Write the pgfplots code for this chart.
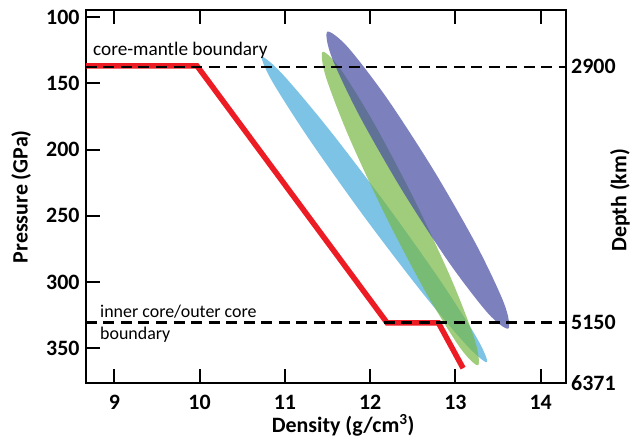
\documentclass[border=0pt]{standalone}
\usepackage{pgfplots}
\pgfplotsset{compat=1.18}
\usepackage{fontspec}
\setmainfont{Carlito}
\definecolor{eblue}{RGB}{125,195,230}
\definecolor{egreen}{RGB}{119,184,69}
\definecolor{epurple}{RGB}{69,76,162}
\definecolor{cred}{RGB}{237,28,36}
\begin{document}
\begin{tikzpicture}
\useasboundingbox (-86bp,-59.7bp) rectangle (547bp,383.3bp);
\begin{axis}[at={(0,0)}, anchor=south west, scale only axis,
  width=479.7bp, height=373.3bp,
  xmin=8.668, xmax=14.293, ymin=94.6, ymax=376.4, y dir=reverse,
  xtick={9,10,11,12,13,14}, ytick={100,150,200,250,300,350},
  ytick pos=left, tick align=inside,
  major tick length=14bp, tick style={black, line width=2bp},
  axis line style={line width=2.2bp},
  /pgf/number format/assume math mode=true,
  tick label style={font=\fontsize{22}{26}\selectfont\bfseries},
  xticklabel style={inner sep=0pt, yshift=-12bp},
  yticklabel style={xshift=-3bp},
  label style={font=\fontsize{22}{26}\selectfont\bfseries},
  xlabel={Density (g/cm\textsuperscript{3})},
  xlabel style={at={(axis description cs:0.536,-0.131)}, anchor=base, inner sep=0pt},
  ylabel={Pressure (GPa)},
  ylabel style={at={(axis description cs:-0.135,0.5)}, anchor=center},
  clip=true]
% blue ellipse
\addplot[draw=none, fill=eblue, smooth cycle] coordinates {
 (13.370,360.50) (13.134,347.87) (12.608,307.76) (11.933,250.91)
 (11.289,192.56) (10.850,148.35) (10.732,130.10) (10.968,142.74)
 (11.494,182.84) (12.169,239.69) (12.813,298.04) (13.252,342.26)};
% green ellipse
\addplot[draw=none, fill=egreen, fill opacity=0.7, smooth cycle] coordinates {
 (13.2645,362.77) (13.056,349.69) (12.659,308.40) (12.181,249.98)
 (11.749,190.08) (11.479,144.75) (11.4435,126.13) (11.652,139.22)
 (12.049,180.50) (12.527,238.92) (12.959,298.82) (13.229,344.16)};
% purple ellipse
\addplot[draw=none, fill=epurple, fill opacity=0.7, smooth cycle] coordinates {
 (13.620,335.05) (13.384,323.72) (12.927,285.42) (12.372,230.40)
 (11.866,173.41) (11.546,129.72) (11.498,111.03) (11.734,122.36)
 (12.191,160.66) (12.746,215.68) (13.252,272.67) (13.572,316.36)};
% red line
\addplot[cred, line width=5.5bp] coordinates {
 (8.60,136.8) (9.97,136.8) (12.198,330.7) (12.80,330.7) (13.09,365)};
% dashed boundaries
\addplot[black, line width=2.2bp, dash pattern=on 11bp off 6.5bp] coordinates {(8.668,137.5) (14.293,137.5)};
\addplot[black, line width=2.2bp, dash pattern=on 11bp off 6.5bp] coordinates {(8.668,330.5) (14.293,330.5)};
\node[anchor=base west, inner sep=0pt, font=\fontsize{19.3}{23}\selectfont] at (axis cs:8.75,128.8) {core-mantle boundary};
\node[anchor=base west, inner sep=0pt, font=\fontsize{18}{22}\selectfont] at (axis cs:8.832,326.8) {inner core/outer core};
\node[anchor=base west, inner sep=0pt, font=\fontsize{18}{22}\selectfont] at (axis cs:8.832,343.5) {boundary};
\end{axis}
\begin{axis}[at={(0,0)}, anchor=south west, scale only axis,
  width=479.7bp, height=373.3bp,
  xmin=8.668, xmax=14.293, ymin=94.6, ymax=376.4, y dir=reverse,
  axis x line=none, axis y line*=right, axis line style={draw=none},
  ytick={137.5,330.5,376.4}, yticklabels={2900,5150,6371},
  major tick length=0pt,
  tick label style={font=\fontsize{22}{26}\selectfont\bfseries},
  yticklabel style={xshift=2bp},
  label style={font=\fontsize{22}{26}\selectfont\bfseries},
  ylabel={Depth (km)},
  ylabel style={at={(axis description cs:1.113,0.49)}, anchor=center}]
\addplot[draw=none] coordinates {(10,200)};
\end{axis}
\end{tikzpicture}
\end{document}
